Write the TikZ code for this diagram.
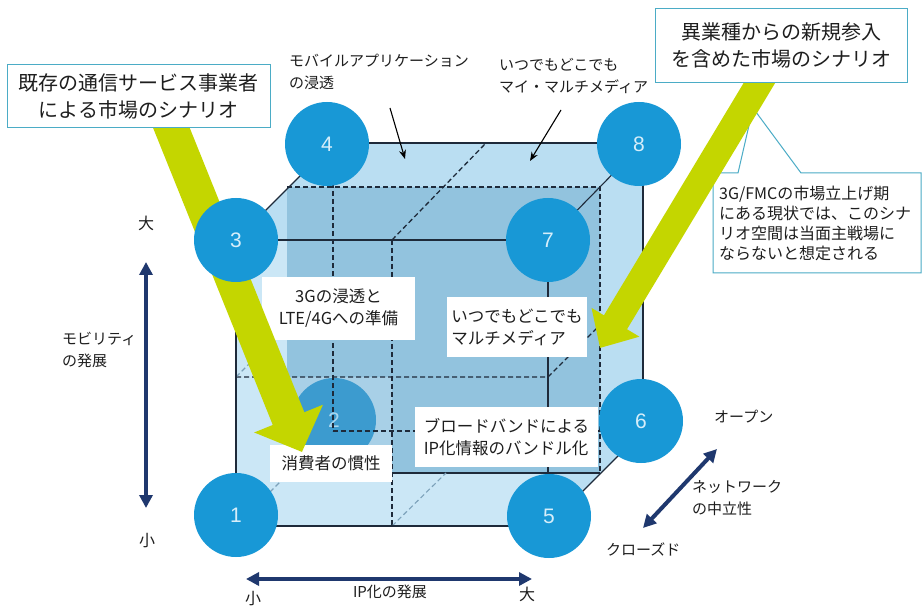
\documentclass[tikz,border=0pt]{standalone}
\usepackage{fontspec}
\setmainfont{Noto Sans CJK JP}
\newfontfamily\numfont{Liberation Sans}
\usetikzlibrary{arrows.meta}
\definecolor{cubelight}{RGB}{186,222,242}
\definecolor{cubefront}{RGB}{203,231,246}
\definecolor{cubemid}{RGB}{146,195,222}
\definecolor{cubequad}{RGB}{168,208,231}
\definecolor{ballblue}{RGB}{24,152,214}
\definecolor{ballbackc}{RGB}{60,155,207}
\definecolor{numcol}{RGB}{214,238,250}
\definecolor{numback}{RGB}{170,214,238}
\definecolor{limec}{RGB}{196,214,0}
\definecolor{navyc}{RGB}{31,56,110}
\definecolor{callborder}{RGB}{75,172,198}
\definecolor{edgecol}{RGB}{30,42,58}
\definecolor{faintc}{RGB}{125,162,186}
\definecolor{txt}{RGB}{30,30,30}
\begin{document}
\begin{tikzpicture}[x=1pt,y=-1pt,
  ball/.style={circle, fill=ballblue, minimum size=84pt, inner sep=0pt, text=numcol, font=\numfont\fontsize{21}{21}\selectfont},
  backball/.style={ball, fill=ballbackc, text=numback},
  edge/.style={draw=edgecol, line width=1.1pt},
  hidden/.style={draw=edgecol, line width=1.3pt, dash pattern=on 5pt off 3pt},
  faintdash/.style={draw=faintc, line width=1.1pt, dash pattern=on 5pt off 3pt},
  labelbox/.style={fill=white, inner sep=0pt, text=txt, font=\fontsize{16.5}{22}\selectfont},
  callbox/.style={draw=callborder, line width=1pt, fill=white, inner sep=0pt, align=center, text=txt, font=\fontsize{20}{27}\selectfont},
  plain/.style={inner sep=0pt, text=txt, align=left, font=\fontsize{15}{21.5}\selectfont},
  navyarrow/.style={draw=navyc, line width=4pt, {Triangle[length=13pt,width=13pt]}-{Triangle[length=13pt,width=13pt]}},
  pointer/.style={draw=black, line width=1.1pt, -{Stealth[length=9pt,width=7pt]}}
]
\useasboundingbox (0,0) rectangle (923,609);
\fill[white] (0,0) rectangle (923,609);

% cube corners
\coordinate (F3) at (236,240); \coordinate (F7) at (548,240);
\coordinate (F1) at (236,526); \coordinate (F5) at (548,526);
\coordinate (B4) at (333,143); \coordinate (B8) at (643,143);
\coordinate (B2) at (333,431); \coordinate (B6) at (643,431);
\coordinate (M1) at (287,187); \coordinate (M2) at (600,187);
\coordinate (M3) at (600,473); \coordinate (M4) at (287,473);
\coordinate (Xt) at (392,240); \coordinate (Xb) at (392,526); \coordinate (Xk) at (486,143);
\coordinate (Yl) at (236,377); \coordinate (Yr) at (548,377);
\coordinate (Yrk) at (600,325); \coordinate (Ylk) at (287,326);
\coordinate (Xbm) at (446,473); \coordinate (Q) at (287,475);
\coordinate (Qa) at (287,377); \coordinate (Qb) at (392,473);

% fills
\fill[cubelight] (F3) -- (B4) -- (B8) -- (B6) -- (F5) -- (F1) -- cycle;
\fill[cubefront] (F3) rectangle (F5);
\fill[cubemid] (M1) rectangle (M3);
\fill[cubequad] (Qa) rectangle (Qb);

\node[backball] (n2) at (334,420) {2};

% hidden and middle lines
\draw[hidden] (B4) -- (B2);
\draw[hidden] (B2) -- (B6);
\draw[hidden] (M1) -- (M2) -- (M3);
\draw[edge] (M4) -- (M3);
\draw[hidden] (Xt) -- (Xb);
\draw[hidden] (Xt) -- (Xk);
\draw[hidden] (Yl) -- (Yr) -- (Yrk);
\draw[faintdash] (Yl) -- (Ylk);
\draw[faintdash] (Xb) -- (Xbm);
\draw[faintdash] (F1) -- (Q);

% visible edges
\draw[edge] (F3) -- (F7) -- (F5) -- (F1) -- cycle;
\draw[edge] (B4) -- (B8) -- (B6);
\draw[edge] (F3) -- (B4);
\draw[edge] (F7) -- (B8);
\draw[edge] (F5) -- (B6);

% label boxes
\node[labelbox, minimum width=153pt, minimum height=63pt, align=center] (l3g) at (338.5,308.5) {3Gの浸透と\\LTE/4Gへの準備};
\node[labelbox, minimum width=140pt, minimum height=60pt, align=left] (lany) at (517,327) {いつでもどこでも\\マルチメディア};
\node[labelbox, minimum width=183pt, minimum height=60pt, align=left] (lbb) at (506.5,437) {ブロードバンドによる\\IP化情報のバンドル化};
\node[labelbox, minimum width=122pt, minimum height=37pt, align=center] (lcons) at (331,463.5) {消費者の慣性};

% 3G/FMC callout (under the arrow)
\draw[callborder, line width=1pt, fill=white] (713,173) -- (738,173) -- (753,108) -- (801,173) -- (921,173) -- (921,273) -- (713,273) -- cycle;
\node[plain, anchor=west, font=\fontsize{16}{20}\selectfont] (fmc) at (719,223) {3G/FMCの市場立上げ期\\にある現状では、このシナ\\リオ空間は当面主戦場に\\ならないと想定される};

% lime arrows
\coordinate (la0) at (165,112); \coordinate (la1) at (302,452);
\coordinate (ra0) at (766,72); \coordinate (ra1) at (600,348);
\draw[limec, line width=34pt, -{Triangle[length=36pt,width=72pt]}] (la0) -- (la1);
\draw[limec, line width=27pt, -{Triangle[length=30pt,width=54pt]}] (ra0) -- (ra1);

% balls
\node[ball] (n1) at (236,515) {1};
\node[ball] (n3) at (236,240) {3};
\node[ball] (n4) at (327,144) {4};
\node[ball] (n5) at (549,516) {5};
\node[ball] (n6) at (641,421) {6};
\node[ball] (n7) at (548,240) {7};
\node[ball] (n8) at (639,144) {8};

% top callouts
\node[callbox, minimum width=263pt, minimum height=63pt] (cl) at (138.5,96.5) {既存の通信サービス事業者\\による市場のシナリオ};
\node[callbox, minimum width=252pt, minimum height=74pt] (cr) at (781,45.5) {異業種からの新規参入\\を含めた市場のシナリオ};

% top labels with pointers
\node[plain, anchor=west] (tmob) at (289,72) {モバイルアプリケーション\\の浸透};
\node[plain, anchor=west] (tmy) at (499,76) {いつでもどこでも\\マイ・マルチメディア};
\coordinate (p1a) at (390,108); \coordinate (p1b) at (405,159);
\coordinate (p2a) at (561,110); \coordinate (p2b) at (530,161);
\draw[pointer] (p1a) -- (p1b);
\draw[pointer] (p2a) -- (p2b);

% axes
\node[plain, font=\fontsize{16}{16}\selectfont] (vbig) at (146,223) {大};
\node[plain, font=\fontsize{16}{16}\selectfont] (vsmall) at (147,541) {小};
\coordinate (va) at (146,262); \coordinate (vb) at (146,508);
\draw[navyarrow] (va) -- (vb);
\node[plain, anchor=west] (vlab) at (62,350) {モビリティ\\の発展};

\coordinate (ha) at (246,579); \coordinate (hb) at (532,579);
\draw[navyarrow] (ha) -- (hb);
\node[plain, font=\fontsize{16}{16}\selectfont] (hsmall) at (253,599) {小};
\node[plain, font=\fontsize{16}{16}\selectfont] (hbig) at (527,594) {大};
\node[plain] (hlab) at (390,592) {IP化の発展};

\coordinate (da) at (717,449); \coordinate (db) at (643,528);
\draw[navyarrow] (da) -- (db);
\node[plain, anchor=west] (dopen) at (714,417) {オープン};
\node[plain, anchor=west] (dlab) at (692,498) {ネットワーク\\の中立性};
\node[plain, anchor=west] (dclosed) at (606,549) {クローズド};
\end{tikzpicture}
\end{document}
